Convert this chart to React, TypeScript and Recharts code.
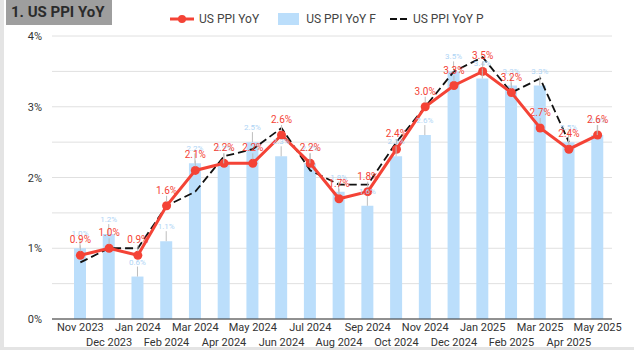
import { ComposedChart, Bar, Line, XAxis, YAxis, CartesianGrid, LabelList } from 'recharts'

const MONTHS = [
  'Nov 2023', 'Dec 2023', 'Jan 2024', 'Feb 2024', 'Mar 2024', 'Apr 2024', 'May 2024',
  'Jun 2024', 'Jul 2024', 'Aug 2024', 'Sep 2024', 'Oct 2024', 'Nov 2024', 'Dec 2024',
  'Jan 2025', 'Feb 2025', 'Mar 2025', 'Apr 2025', 'May 2025',
]
// actual YoY
const PPI_YOY = [0.9, 1.0, 0.9, 1.6, 2.1, 2.2, 2.2, 2.6, 2.2, 1.7, 1.8, 2.4, 3.0, 3.3, 3.5, 3.2, 2.7, 2.4, 2.6]
// forecast
const PPI_YOY_F = [1.0, 1.2, 0.6, 1.1, 2.2, 2.2, 2.5, 2.3, 2.2, 1.8, 1.6, 2.3, 2.6, 3.5, 3.4, 3.3, 3.3, 2.5, 2.6]
// previous
const PPI_YOY_P = [0.8, 1.0, 1.0, 1.6, 1.8, 2.3, 2.4, 2.7, 2.1, 1.9, 1.9, 2.5, 3.0, 3.5, 3.7, 3.2, 3.4, 2.5, null]
const Y_TICKS = [0, 0.5, 1, 1.5, 2, 2.5, 3, 3.5, 4]

const RED = '#f44336'
const BLUE = '#bbdefb'
const FONT = 'Roboto, "Noto Sans", sans-serif'

const data = MONTHS.map((month, i) => ({
  month,
  actual: PPI_YOY[i],
  forecast: PPI_YOY_F[i],
  previous: PPI_YOY_P[i],
}))

function MonthTick({ x, y, payload }: any) {
  const row = MONTHS.indexOf(payload.value) % 2
  return (
    <text x={x} y={y + 4 + row * 15} textAnchor="middle" fontSize={11} fill="#333" fontFamily={FONT}>
      {payload.value}
    </text>
  )
}

function PctTick({ x, y, payload }: any) {
  if (!Number.isInteger(payload.value)) return <g />
  return (
    <text x={x} y={y + 4} textAnchor="end" fontSize={11} fill="#333" fontFamily={FONT}>
      {payload.value}%
    </text>
  )
}

function LineLabel({ x, y, value }: any) {
  if (value == null) return null
  return (
    <g>
      <line x1={x} x2={x} y1={y - 4} y2={y - 10} stroke="#bdbdbd" />
      <text x={x} y={y - 12} textAnchor="middle" fontSize={10} fill={RED} fontFamily={FONT}>
        {value.toFixed(1)}%
      </text>
    </g>
  )
}

function BarLabel({ x, y, width, value }: any) {
  const cx = x + width / 2
  return (
    <g>
      <line x1={cx} x2={cx} y1={y} y2={y - 10} stroke="#bdbdbd" />
      <text x={cx} y={y - 12} textAnchor="middle" fontSize={8} fill="#aed4f5" fontFamily={FONT}>
        {value.toFixed(1)}%
      </text>
    </g>
  )
}

function LegendRow() {
  const text = { fontSize: 12, color: '#444', fontFamily: FONT }
  return (
    <div style={{ position: 'absolute', left: 170, top: 12, display: 'flex', alignItems: 'center', height: 14 }}>
      <svg width={24} height={14}>
        <line x1={0} x2={24} y1={7} y2={7} stroke={RED} strokeWidth={3} />
        <circle cx={12} cy={7} r={4} fill={RED} />
      </svg>
      <span style={{ ...text, marginLeft: 5 }}>US PPI YoY</span>
      <svg width={21} height={14} style={{ marginLeft: 19 }}>
        <rect x={0} y={1} width={21} height={12} fill={BLUE} />
      </svg>
      <span style={{ ...text, marginLeft: 7 }}>US PPI YoY F</span>
      <svg width={19} height={14} style={{ marginLeft: 14 }}>
        <line x1={0} x2={19} y1={7} y2={7} stroke="#111" strokeWidth={1.8} strokeDasharray="7 3" />
      </svg>
      <span style={{ ...text, marginLeft: 4 }}>US PPI YoY P</span>
    </div>
  )
}

export default function App() {
  return (
    <div style={{ position: 'relative', width: 634, height: 353, background: '#fff', overflow: 'hidden' }}>
      <style>{'body{margin:0}'}</style>
      <div style={{ position: 'absolute', left: 0, top: 0, width: 4, height: 350, background: '#e4e4e4' }} />
      <div style={{ position: 'absolute', left: 0, top: 347, width: 634, height: 3, background: '#e4e4e4' }} />
      <div
        style={{
          position: 'absolute', left: 6, top: 0, width: 106, height: 25, background: '#9e9e9e',
          fontFamily: FONT, fontWeight: 700, fontSize: 15, color: '#2b2b2b', lineHeight: '25px', paddingLeft: 5,
          boxSizing: 'border-box', whiteSpace: 'nowrap',
        }}
      >
        1. US PPI YoY
      </div>
      <LegendRow />
      <div style={{ position: 'absolute', left: 0, top: 0 }}>
        <ComposedChart width={634} height={353} data={data} margin={{ top: 36, right: 22, left: 12, bottom: 4 }}>
          <CartesianGrid vertical={false} stroke="#e0e0e0" />
          <XAxis
            dataKey="month"
            interval={0}
            height={30}
            tick={<MonthTick />}
            tickLine={false}
            axisLine={{ stroke: '#333' }}
            padding={{ left: 14, right: 0 }}
          />
          <YAxis
            domain={[0, 4]}
            ticks={Y_TICKS}
            width={40}
            tick={<PctTick />}
            tickLine={false}
            axisLine={false}
            tickMargin={4}
          />
          <Bar dataKey="forecast" fill={BLUE} barSize={12} isAnimationActive={false}>
            <LabelList dataKey="forecast" content={<BarLabel />} />
          </Bar>
          <Line
            dataKey="previous"
            stroke="#111"
            strokeWidth={1.8}
            strokeDasharray="8 4"
            dot={false}
            activeDot={false}
            isAnimationActive={false}
          />
          <Line
            dataKey="actual"
            stroke={RED}
            strokeWidth={3}
            dot={{ r: 4.5, fill: RED, stroke: RED, strokeWidth: 0 }}
            isAnimationActive={false}
          >
            <LabelList dataKey="actual" content={<LineLabel />} />
          </Line>
        </ComposedChart>
      </div>
    </div>
  )
}
